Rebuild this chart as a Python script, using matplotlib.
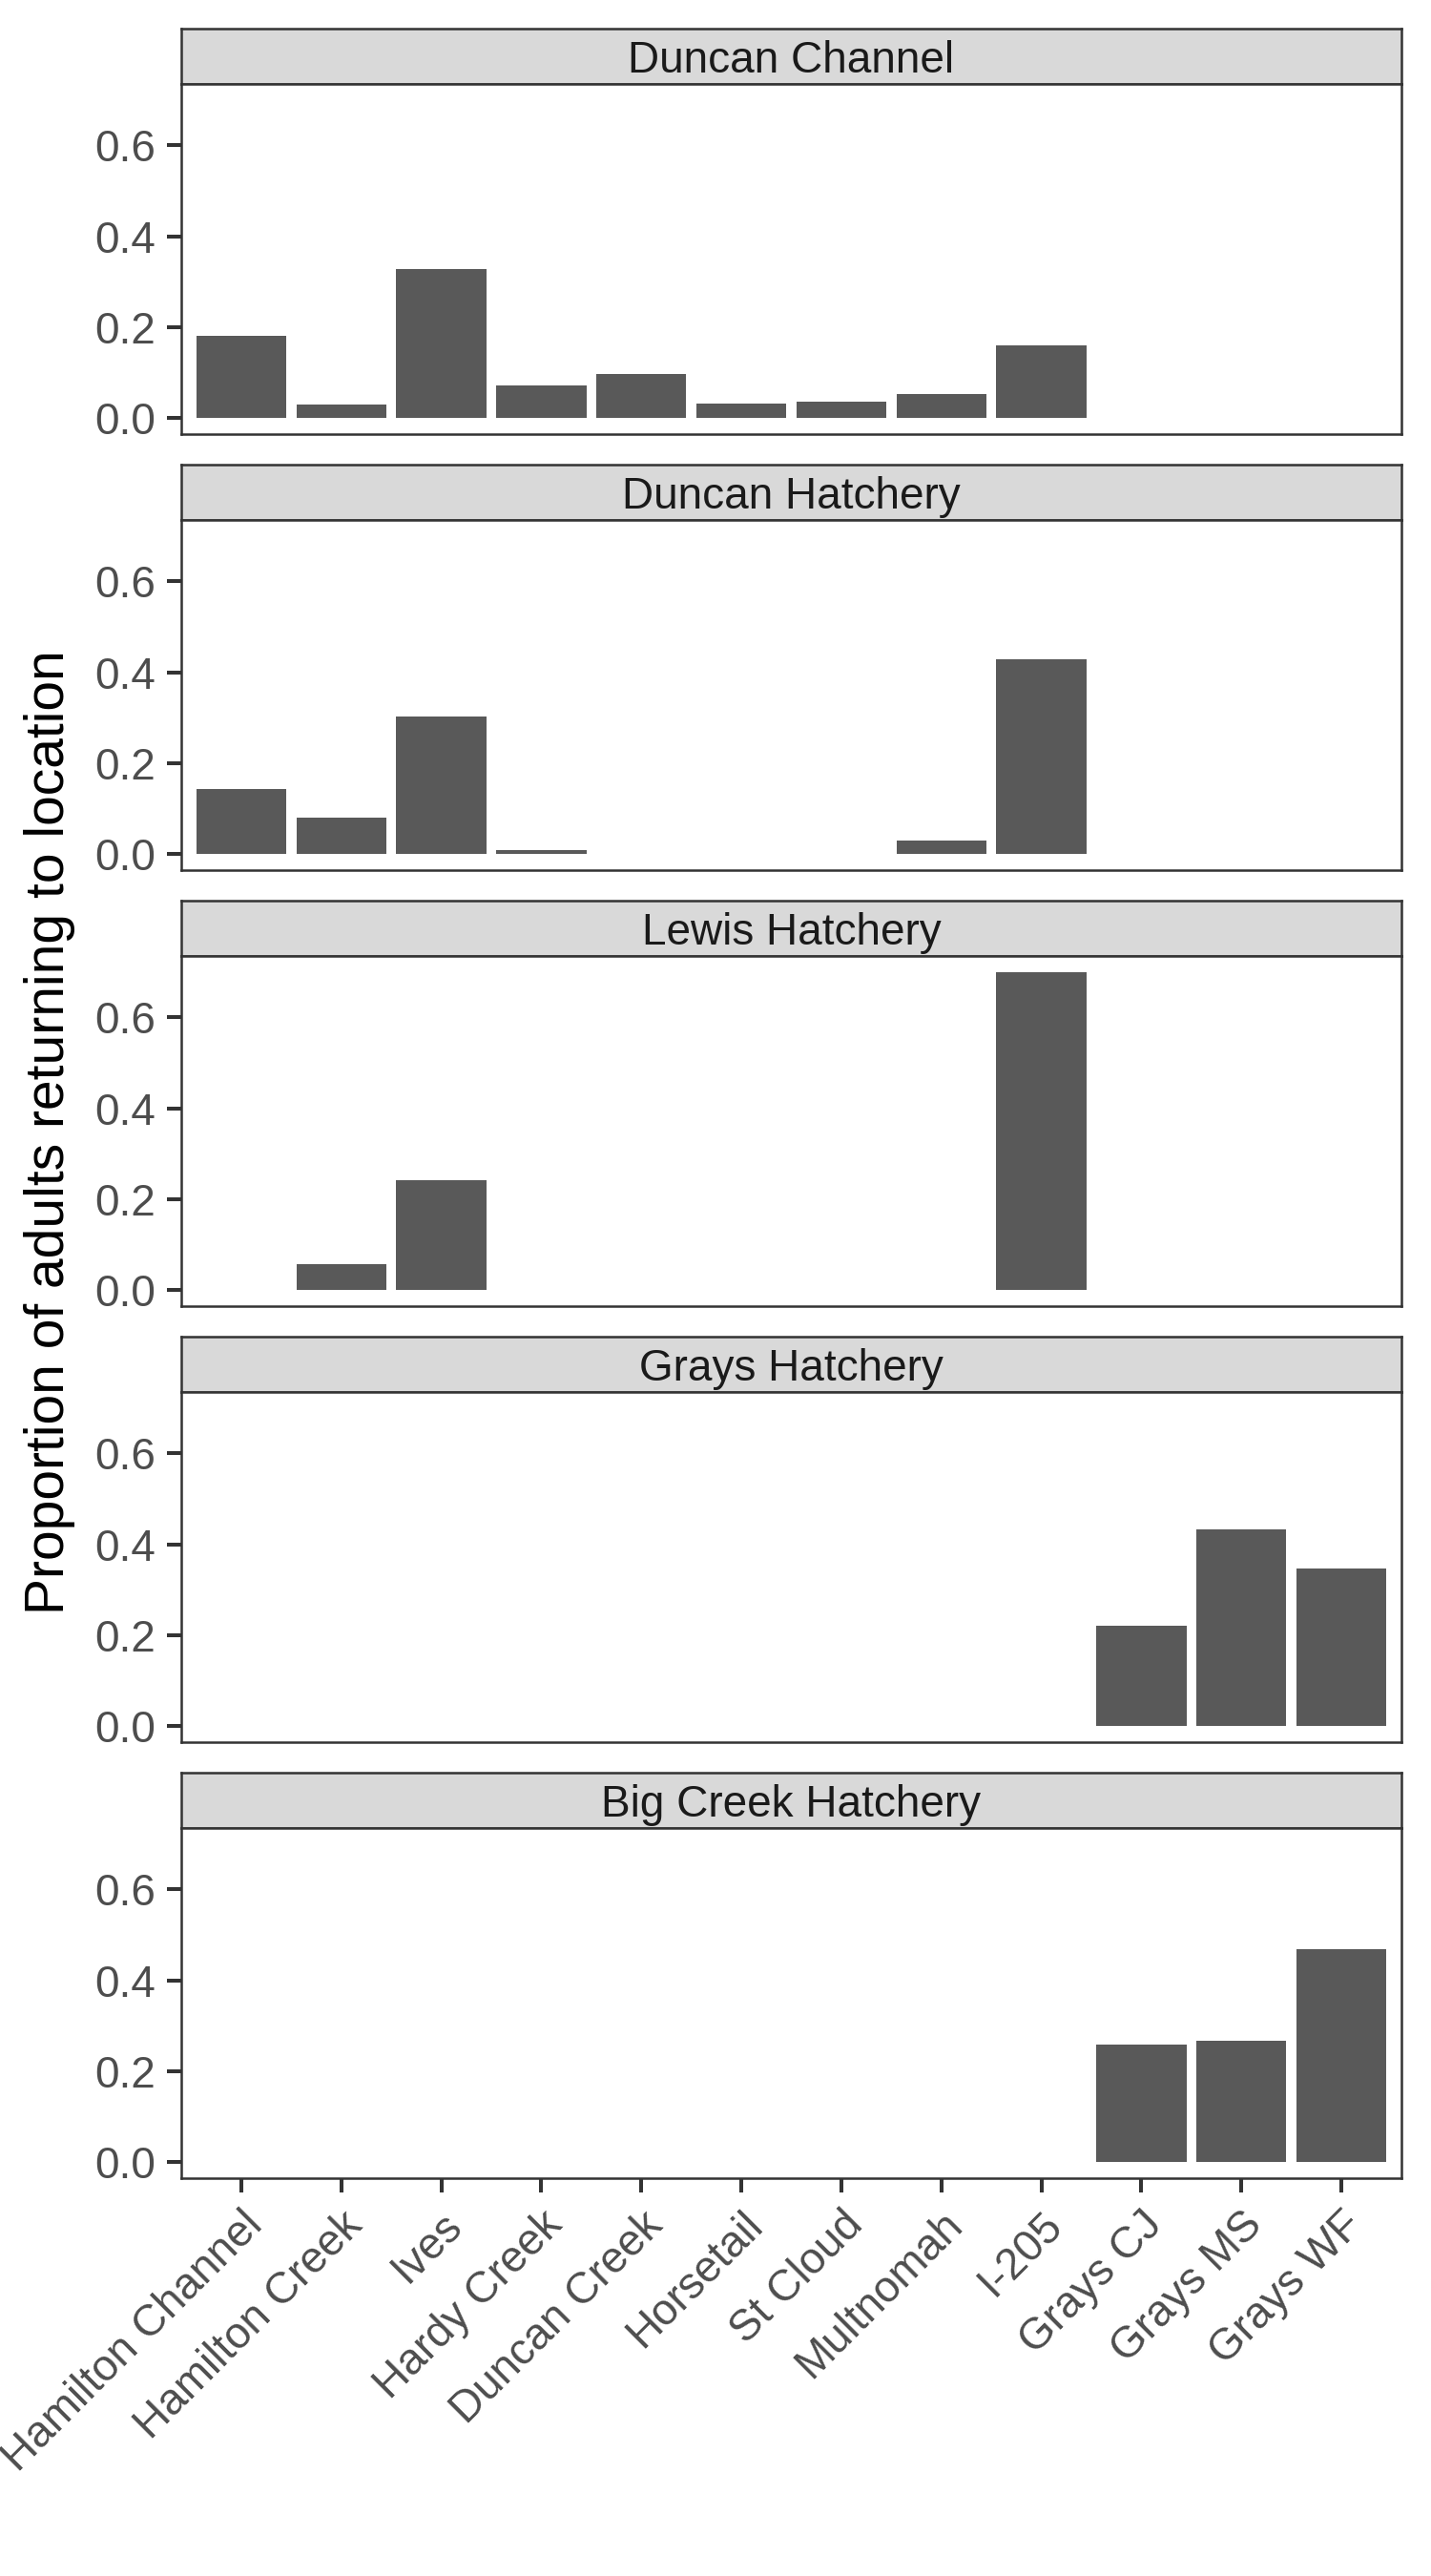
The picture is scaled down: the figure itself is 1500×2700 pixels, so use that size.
import matplotlib
matplotlib.use("Agg")
import matplotlib.pyplot as plt
import numpy as np

plt.rcParams['font.family'] = ['Liberation Sans', 'DejaVu Sans']

locations = ["Hamilton Channel", "Hamilton Creek", "Ives", "Hardy Creek", "Duncan Creek",
             "Horsetail", "St Cloud", "Multnomah", "I-205", "Grays CJ", "Grays MS", "Grays WF"]

panels = ["Duncan Channel", "Duncan Hatchery", "Lewis Hatchery", "Grays Hatchery", "Big Creek Hatchery"]

duncan_channel = [0.182, 0.031, 0.329, 0.071, 0.098, 0.033, 0.036, 0.054, 0.161, None, None, None]
duncan_hatchery = [0.144, 0.081, 0.303, 0.010, None, None, None, 0.029, 0.428, None, None, None]
lewis_hatchery = [None, 0.058, 0.242, None, None, None, None, None, 0.700, None, None, None]
grays_hatchery = [None, None, None, None, None, None, None, None, None, 0.221, 0.433, 0.347]
big_creek_hatchery = [None, None, None, None, None, None, None, None, None, 0.259, 0.267, 0.468]

values = [duncan_channel, duncan_hatchery, lewis_hatchery, grays_hatchery, big_creek_hatchery]

yticks = [0.0, 0.2, 0.4, 0.6]
y_title = "Proportion of adults returning to location"

W, H = 1500, 2700
fig = plt.figure(figsize=(15, 27), dpi=100)

left, right = 190, 1469
strip_h, panel_h, step, top0 = 58, 367, 457, 30
grey20 = '#333333'
grey30 = '#4D4D4D'
ylo, yhi = -0.035, 0.735
fs = 33

x = np.arange(len(locations))
for i, (name, vals) in enumerate(zip(panels, values)):
    st = top0 + i * step
    pt = st + strip_h
    pb = pt + panel_h
    # strip
    sax = fig.add_axes([left / W, 1 - pt / H, (right - left) / W, strip_h / H])
    sax.set_facecolor('#D9D9D9')
    sax.set_xticks([]); sax.set_yticks([])
    for s in sax.spines.values():
        s.set_color(grey20); s.set_linewidth(1.8)
    sax.text(0.5, 0.42, name, ha='center', va='center', fontsize=fs, color='#1A1A1A',
             transform=sax.transAxes)
    # panel
    ax = fig.add_axes([left / W, 1 - pb / H, (right - left) / W, panel_h / H])
    xs = [xi for xi, v in zip(x, vals) if v is not None]
    hs = [v for v in vals if v is not None]
    ax.bar(xs, hs, width=0.9, color='#595959', zorder=2)
    ax.set_xlim(-0.6, len(locations) - 0.4)
    ax.set_ylim(ylo, yhi)
    ax.set_yticks(yticks)
    ax.set_yticklabels([f"{t:.1f}" for t in yticks])
    ax.set_xticks(x)
    if i == len(panels) - 1:
        ax.set_xticklabels(locations, rotation=45, ha='right', va='top',
                           rotation_mode='anchor')
        ax.tick_params(axis='x', length=10.5, width=2.9, color=grey20, pad=9,
                       labelsize=fs, labelcolor=grey30)
    else:
        ax.set_xticklabels([])
        ax.tick_params(axis='x', length=0)
    ax.tick_params(axis='y', length=10.5, width=2.9, color=grey20, pad=9,
                   labelsize=fs, labelcolor=grey30)
    for s in ax.spines.values():
        s.set_color(grey20); s.set_linewidth(1.8)

fig.text(52 / W, 1 - 1187 / H, y_title, rotation=90, ha='center', va='center',
         fontsize=41, color='black')

fig.savefig("out.png", dpi=100)
